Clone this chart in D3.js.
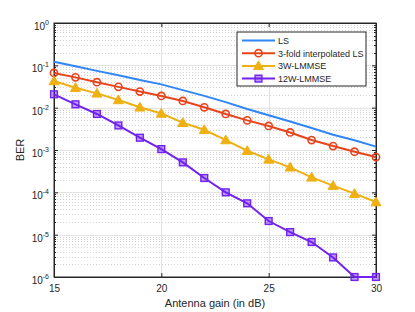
<!DOCTYPE html>
<html>
<head>
<meta charset="utf-8">
<script src="https://cdn.jsdelivr.net/npm/d3@7"></script>
<style>
  body { margin: 0; background: #fff; }
  text { font-family: "Liberation Sans", Arial, sans-serif; fill: #262626; }
</style>
</head>
<body>
<svg id="chart" width="415" height="312"></svg>
<script>
const gains = [15, 16, 17, 18, 19, 20, 21, 22, 23, 24, 25, 26, 27, 28, 29, 30];

const lsBer = [0.122, 0.095, 0.074, 0.058, 0.045, 0.0355, 0.026, 0.019, 0.0135, 0.0093,
  0.0066, 0.0047, 0.0033, 0.0023, 0.0017, 0.0012];
const interpBer = [0.066, 0.052, 0.040, 0.031, 0.024, 0.0189, 0.0144, 0.0102, 0.0071, 0.0050,
  0.0037, 0.0026, 0.00172, 0.00124, 0.00091, 0.00068];
const w3Ber = [0.0426, 0.0296, 0.0218, 0.0152, 0.0102, 0.0073, 0.0044, 0.0030, 0.00172, 0.00096,
  0.00060, 0.00039, 0.000226, 0.000144, 0.000093, 0.000059];
const w12Ber = [0.0207, 0.012, 0.0071, 0.0038, 0.00195, 0.00105, 0.00051, 0.000218, 0.0001, 0.000055,
  0.000021, 0.0000115, 0.0000067, 0.0000029, 0.000001, 0.000001];

const seriesNames = ["LS", "3-fold interpolated LS", "3W-LMMSE", "12W-LMMSE"];
const xTicks = [15, 20, 25, 30];
const yExponents = [0, -1, -2, -3, -4, -5, -6];

const series = [
  { name: seriesNames[0], values: lsBer, color: "#2f86f6", marker: "none" },
  { name: seriesNames[1], values: interpBer, color: "#e8441c", marker: "circle" },
  { name: seriesNames[2], values: w3Ber, color: "#efb014", marker: "triangle" },
  { name: seriesNames[3], values: w12Ber, color: "#7122ee", marker: "square" }
];

const svg = d3.select("#chart");
const margin = { left: 54, top: 23, right: 39, bottom: 35 };
const width = 415 - margin.left - margin.right;
const height = 312 - margin.top - margin.bottom;

const g = svg.append("g").attr("transform", `translate(${margin.left},${margin.top})`);

const x = d3.scaleLinear().domain([15, 30]).range([0, width]);
const y = d3.scaleLog().domain([1e-6, 1]).range([height, 0]);

// minor values for log axis
const minorVals = [];
for (let e = -6; e < 0; e++) {
  for (let k = 2; k <= 9; k++) minorVals.push(k * Math.pow(10, e));
}

// minor grid
g.append("g")
  .selectAll("line")
  .data(minorVals)
  .enter()
  .append("line")
  .attr("x1", 0)
  .attr("x2", width)
  .attr("y1", (d) => Math.round(y(d)) + 0.5)
  .attr("y2", (d) => Math.round(y(d)) + 0.5)
  .attr("stroke", "#d2d2d2")
  .attr("stroke-dasharray", "1,2");

// major grid
g.append("g")
  .selectAll("line")
  .data(yExponents)
  .enter()
  .append("line")
  .attr("x1", 0)
  .attr("x2", width)
  .attr("y1", (d) => Math.round(y(Math.pow(10, d))) + 0.5)
  .attr("y2", (d) => Math.round(y(Math.pow(10, d))) + 0.5)
  .attr("stroke", "#e2e2e2");

g.append("g")
  .selectAll("line")
  .data(xTicks)
  .enter()
  .append("line")
  .attr("x1", (d) => Math.round(x(d)) + 0.5)
  .attr("x2", (d) => Math.round(x(d)) + 0.5)
  .attr("y1", 0)
  .attr("y2", height)
  .attr("stroke", "#e2e2e2");

// axes with inward ticks
const axisColor = "#262626";
const xAxisBottom = d3.axisBottom(x).tickValues(xTicks).tickSize(-4).tickPadding(8);
const xAxisTop = d3.axisTop(x).tickValues(xTicks).tickSize(-4).tickFormat("");
const yAxisLeft = d3.axisLeft(y).tickValues(yExponents.map((e) => Math.pow(10, e))).tickSize(-4).tickFormat("");
const yAxisRight = d3.axisRight(y).tickValues(yExponents.map((e) => Math.pow(10, e))).tickSize(-4).tickFormat("");

const gx = g.append("g").attr("transform", `translate(0,${height})`).call(xAxisBottom);
gx.selectAll("text").attr("font-size", 10).style("fill", axisColor);
g.append("g").call(xAxisTop);
g.append("g").call(yAxisLeft);
g.append("g").attr("transform", `translate(${width},0)`).call(yAxisRight);

// minor ticks on left and right
[0, width].forEach((xPos) => {
  g.append("g")
    .selectAll("line")
    .data(minorVals)
    .enter()
    .append("line")
    .attr("x1", xPos)
    .attr("x2", xPos === 0 ? 2 : width - 2)
    .attr("y1", (d) => Math.round(y(d)) + 0.5)
    .attr("y2", (d) => Math.round(y(d)) + 0.5)
    .attr("stroke", axisColor);
});

g.selectAll(".domain").attr("stroke", axisColor);
g.selectAll(".tick line").attr("stroke", axisColor);

// box
g.append("rect")
  .attr("x", 0)
  .attr("y", 0)
  .attr("width", width)
  .attr("height", height)
  .attr("fill", "none")
  .attr("stroke", axisColor)
  .attr("stroke-width", 1);

// y tick labels 10^n
const yLabels = g.append("g");
yExponents.forEach((e) => {
  const t = yLabels.append("text")
    .attr("x", -5)
    .attr("y", y(Math.pow(10, e)) + 7)
    .attr("text-anchor", "end")
    .attr("font-size", 10);
  t.append("tspan").text("10");
  t.append("tspan").attr("font-size", 7).attr("dy", -5).text(String(e));
});

// axis titles
svg.append("text")
  .attr("x", margin.left + width / 2)
  .attr("y", 307)
  .attr("text-anchor", "middle")
  .attr("font-size", 11)
  .text("Antenna gain (in dB)");

svg.append("text")
  .attr("transform", `translate(24,${margin.top + height / 2}) rotate(-90)`)
  .attr("text-anchor", "middle")
  .attr("font-size", 11)
  .text("BER");

// lines
const line = d3.line()
  .x((d, i) => x(gains[i]))
  .y((d) => y(d));

const plot = g.append("g");

const drawMarker = (sel, s, cx, cy) => {
  if (s.marker === "circle") {
    sel.append("circle")
      .attr("cx", cx).attr("cy", cy).attr("r", 3.6)
      .attr("fill", "none").attr("stroke", s.color).attr("stroke-width", 1.6);
  } else if (s.marker === "triangle") {
    const r = 5;
    sel.append("path")
      .attr("d", `M${cx},${cy - r} L${cx + r},${cy + r * 0.75} L${cx - r},${cy + r * 0.75} Z`)
      .attr("fill", s.color).attr("stroke", s.color).attr("stroke-width", 1);
  } else if (s.marker === "square") {
    const h = 3.4;
    sel.append("rect")
      .attr("x", cx - h).attr("y", cy - h).attr("width", 2 * h).attr("height", 2 * h)
      .attr("fill", s.color).attr("fill-opacity", 0.45)
      .attr("stroke", s.color).attr("stroke-width", 1.4);
  }
};

series.forEach((s) => {
  plot.append("path")
    .datum(s.values)
    .attr("fill", "none")
    .attr("stroke", s.color)
    .attr("stroke-width", 2)
    .attr("d", line);
  const mg = plot.append("g");
  s.values.forEach((v, i) => drawMarker(mg, s, x(gains[i]), y(v)));
});

// legend
const legend = svg.append("g").attr("transform", "translate(237,32)");
legend.append("rect")
  .attr("width", 129)
  .attr("height", 54)
  .attr("fill", "#fff")
  .attr("stroke", axisColor)
  .attr("stroke-width", 1);

series.forEach((s, i) => {
  const ly = 8.5 + i * 12.7;
  const row = legend.append("g");
  row.append("line")
    .attr("x1", 5).attr("x2", 38)
    .attr("y1", ly).attr("y2", ly)
    .attr("stroke", s.color).attr("stroke-width", 2);
  drawMarker(row, s, 21.5, ly);
  row.append("text")
    .attr("x", 41)
    .attr("y", ly + 3.3)
    .attr("font-size", 9)
    .text(s.name);
});
</script>
</body>
</html>
